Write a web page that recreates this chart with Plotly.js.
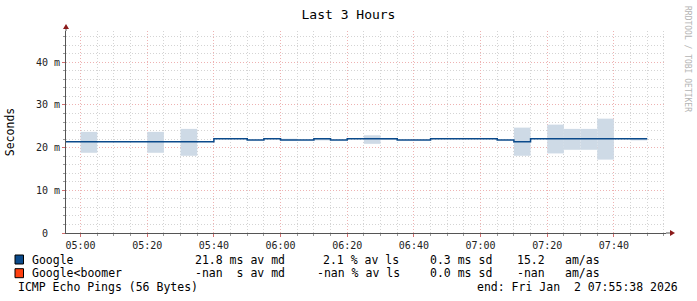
<!DOCTYPE html>
<html>
<head>
<meta charset="utf-8">
<script src="https://cdn.plot.ly/plotly-3.0.1.min.js"></script>
<style>html,body{margin:0;padding:0;background:#fff;}#chart{width:697px;height:301px;}</style>
</head>
<body>
<div id="chart"></div>
<script>
// 5-minute bucket start times
const bucketTimes = [
  "04:55","05:00","05:05","05:10","05:15","05:20","05:25","05:30","05:35",
  "05:40","05:45","05:50","05:55","06:00","06:05","06:10","06:15","06:20",
  "06:25","06:30","06:35","06:40","06:45","06:50","06:55","07:00","07:05",
  "07:10","07:15","07:20","07:25","07:30","07:35","07:40","07:45","07:50"
];
// median RTT (ms)
const medianMs = [
  21.4,21.4,21.4,21.4,21.4,21.4,21.4,21.4,21.4,
  22.1,22.1,21.8,22.1,21.8,21.8,22.1,21.8,22.1,
  22.1,22.1,21.8,21.8,22.1,22.1,22.1,22.1,21.8,
  21.4,22.1,22.1,22.1,22.1,22.1,22.1,22.1,null
];
// smoke band low / high (ms)
const smokeLowMs = [
  null,18.8,null,null,null,18.8,null,18.1,null,
  null,null,null,null,21.7,null,21.7,null,null,
  20.9,21.8,null,null,null,null,null,null,null,
  18.1,null,18.65,19.5,19.5,17.2,null,21.7,null
];
const smokeHighMs = [
  null,23.7,null,null,null,23.7,null,24.4,null,
  null,null,null,null,22.1,null,22.1,null,null,
  22.9,22.2,null,null,null,null,null,null,null,
  24.7,null,25.4,24.4,24.4,26.8,null,22.1,null
];
const yTickVals = [0,10,20,30,40];
const yTickText = ["0\u00a0\u00a0","10 m","20 m","30 m","40 m"];

const legendRows = [
  {name:"Google", color:"#0b4a8b", cols:["21.8 ms av md","2.1 % av ls","0.3 ms sd","15.2","am/as"]},
  {name:"Google<boomer", color:"#ff4010", cols:["-nan\u00a0\u00a0s av md","-nan % av ls","0.0 ms sd","-nan","am/as"]}
];
const footerLeft = "ICMP Echo Pings (56 Bytes)";
const footerRight = "end: Fri Jan\u00a0\u00a02 07:55:38 2026";

const day = "2026-01-02 ";
const x = bucketTimes.map(t => day + t + ":00");

// line: hv step, extend last valid bucket to its end
let lineX = [], lineY = [];
for (let i = 0; i < x.length; i++) { lineX.push(x[i]); lineY.push(medianMs[i]); }
let lastIdx = medianMs.length - 1;
while (medianMs[lastIdx] === null) lastIdx--;
lineY[lastIdx + 1] = medianMs[lastIdx];

const sx = [], sb = [], sh = [];
for (let i = 0; i < x.length; i++) {
  if (smokeLowMs[i] !== null) { sx.push(x[i]); sb.push(smokeLowMs[i]); sh.push(smokeHighMs[i] - smokeLowMs[i]); }
}

const L = 66, R = 31, T = 31, B = 68, W = 697, H = 301;
const pw = W - L - R, ph = H - T - B;
const px = v => (v - L) / pw;
const py = v => (H - B - v) / ph;
const mono = "DejaVu Sans Mono, monospace";

const traces = [
  {type:"bar", x:sx, base:sb, y:sh, width:300000, offset:0,
   marker:{color:"rgb(206,218,230)", line:{width:0}}, hoverinfo:"skip", showlegend:false},
  {type:"scatter", mode:"lines", x:lineX, y:lineY, line:{shape:"hv", color:"#0b4a8b", width:1.5},
   connectgaps:false, showlegend:false}
];

const annotations = [];
const shapes = [];
const colX = [193, 321, 428, 515, 563];
const colX2 = [193, 315, 428, 515, 563];
legendRows.forEach((r, i) => {
  const cy = 259.5 + i * 13.7;
  shapes.push({type:"rect", xref:"paper", yref:"paper", x0:px(15), x1:px(23.5), y0:py(cy-4.5), y1:py(cy+4.5),
    fillcolor:r.color, line:{color:"#000", width:1}});
  annotations.push({xref:"paper", yref:"paper", x:px(30), y:py(cy), xanchor:"left", yanchor:"middle",
    text:r.name.replace("<","&lt;"), showarrow:false, font:{family:mono, size:11.5, color:"#000"}});
  r.cols.forEach((c, j) => {
    annotations.push({xref:"paper", yref:"paper", x:px((i===0?colX:colX2)[j]), y:py(cy), xanchor:"left", yanchor:"middle",
      text:c, showarrow:false, font:{family:mono, size:11.5, color:"#000"}});
  });
});
annotations.push({xref:"paper", yref:"paper", x:px(16), y:py(287), xanchor:"left", yanchor:"middle",
  text:footerLeft, showarrow:false, font:{family:mono, size:11.5, color:"#000"}});
annotations.push({xref:"paper", yref:"paper", x:px(680), y:py(287), xanchor:"right", yanchor:"middle",
  text:footerRight, showarrow:false, font:{family:mono, size:11.5, color:"#000"}});
annotations.push({xref:"paper", yref:"paper", x:px(688), y:py(59), xanchor:"center", yanchor:"middle",
  text:"RRDTOOL / TOBI OETIKER", textangle:90, showarrow:false, font:{family:mono, size:8, color:"#b4b4b4"}});

// axis extensions + arrows
shapes.push({type:"line", xref:"paper", yref:"paper", x0:1, x1:px(670), y0:0, y1:0, line:{color:"#555", width:1}});
shapes.push({type:"line", xref:"paper", yref:"paper", x0:0, x1:0, y0:1, y1:py(28), line:{color:"#555", width:1}});
shapes.push({type:"path", xref:"paper", yref:"paper", xsizemode:"pixel", ysizemode:"pixel",
  xanchor:px(670), yanchor:0, path:"M 0 -3 L 5 0 L 0 3 Z", fillcolor:"#8b1a1a", line:{width:0}});
shapes.push({type:"path", xref:"paper", yref:"paper", xsizemode:"pixel", ysizemode:"pixel",
  xanchor:0, yanchor:py(29), path:"M -3 0 L 0 5 L 3 0 Z", fillcolor:"#8b1a1a", line:{width:0}});

const majorGrid = "rgb(238,178,178)";
const minorGrid = "rgb(212,212,212)";
const layout = {
  width:W, height:H, margin:{l:L, r:R, t:T, b:B}, paper_bgcolor:"#fff", plot_bgcolor:"#fff",
  showlegend:false, barmode:"overlay",
  title:{text:"Last 3 Hours", font:{family:mono, size:13, color:"#000"}, xref:"container", x:0.5, xanchor:"center",
    yref:"container", y:1 - 14/H, yanchor:"middle"},
  xaxis:{type:"date", range:[day+"04:55:38", day+"07:55:38"], dtick:1200000, tickformat:"%H:%M",
    showgrid:true, gridcolor:majorGrid, griddash:"1px,2px", gridwidth:1,
    ticks:"outside", ticklen:3, tickcolor:"rgb(210,110,110)",
    minor:{dtick:300000, showgrid:true, gridcolor:minorGrid, griddash:"1px,2px", gridwidth:1,
      ticks:"outside", ticklen:2, tickcolor:"#999"},
    showline:true, linecolor:"#555", zeroline:false,
    tickfont:{family:mono, size:10, color:"#222"}, fixedrange:true},
  yaxis:{range:[0, ph/4.267], tickmode:"array", tickvals:yTickVals, ticktext:yTickText,
    showgrid:true, gridcolor:majorGrid, griddash:"1px,2px", gridwidth:1,
    ticks:"outside", ticklen:3, tickcolor:"rgb(210,110,110)",
    minor:{tickmode:"linear", tick0:0, dtick:2, showgrid:true, gridcolor:minorGrid, griddash:"1px,2px", gridwidth:1,
      ticks:"outside", ticklen:2, tickcolor:"#999"},
    showline:true, linecolor:"#555", zeroline:false,
    title:{text:"Seconds", font:{family:mono, size:11.5, color:"#000"}, standoff:18},
    tickfont:{family:mono, size:10, color:"#222"}, fixedrange:true},
  annotations:annotations, shapes:shapes
};
Plotly.newPlot("chart", traces, layout, {staticPlot:true, displayModeBar:false});
</script>
</body>
</html>
